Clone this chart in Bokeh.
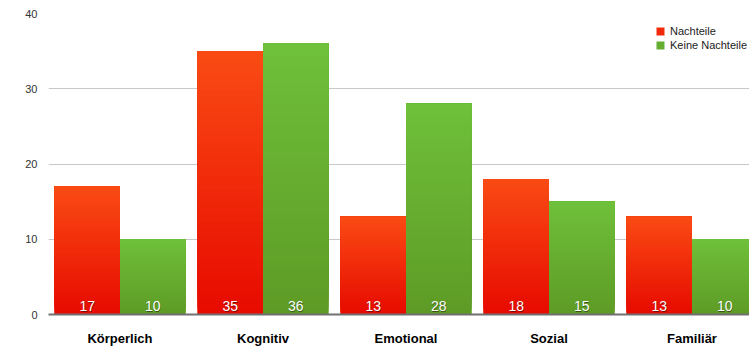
from bokeh.plotting import figure
from bokeh.models import Range1d, FixedTicker, Legend, LegendItem, ColumnDataSource
from bokeh.embed import file_html
from bokeh.resources import INLINE

# ---- data ----
categories = ["Körperlich", "Kognitiv", "Emotional", "Sozial", "Familiär"]
nachteile = [17, 35, 13, 18, 13]
keine_nachteile = [10, 36, 28, 15, 10]
series_names = ["Nachteile", "Keine Nachteile"]
y_ticks = [0, 10, 20, 30, 40]

FONT = "Liberation Sans"
RED_TOP, RED_BOT = (250, 75, 20), (231, 10, 0)
GRN_TOP, GRN_BOT = (111, 192, 58), (94, 155, 38)

centers = [i + 0.5 for i in range(len(categories))]
BW = 0.458
red_x = [c - BW / 2 for c in centers]
grn_x = [c + BW / 2 for c in centers]

p = figure(width=749, height=348, output_backend="svg", toolbar_location=None,
           x_range=Range1d(0, 701 / 143), y_range=Range1d(0, 40),
           min_border_left=48, min_border_right=0, min_border_top=13, min_border_bottom=34)
p.outline_line_color = None
p.background_fill_color = "white"
p.border_fill_color = "white"


def hexc(c):
    return "#%02x%02x%02x" % tuple(int(round(v)) for v in c)


def lerp(a, b, t):
    return tuple(a[k] + (b[k] - a[k]) * t for k in range(3))


def gradient_bars(xs, vals, top_c, bot_c, K=40):
    L, R, B, T, C = [], [], [], [], []
    for x, v in zip(xs, vals):
        for i in range(K):
            L.append(x - BW / 2)
            R.append(x + BW / 2)
            B.append(v * i / K)
            T.append(v)
            C.append(hexc(lerp(bot_c, top_c, (i + 0.5) / K)))
    src = ColumnDataSource(dict(left=L, right=R, bottom=B, top=T, color=C))
    p.quad(left="left", right="right", bottom="bottom", top="top", fill_color="color",
           line_color=None, source=src)


# base bars (used for legend)
r_red = p.vbar(x=red_x, top=nachteile, width=BW, fill_color=hexc(lerp(RED_BOT, RED_TOP, 0.5)), line_color=None)
r_grn = p.vbar(x=grn_x, top=keine_nachteile, width=BW, fill_color=hexc(lerp(GRN_BOT, GRN_TOP, 0.5)), line_color=None)
gradient_bars(red_x, nachteile, RED_TOP, RED_BOT)
gradient_bars(grn_x, keine_nachteile, GRN_TOP, GRN_BOT)

# value labels with shadow
all_x = red_x + grn_x
all_v = nachteile + keine_nachteile
lab = ColumnDataSource(dict(x=all_x, y=[0] * len(all_x), t=[str(v) for v in all_v]))
p.text(x="x", y="y", text="t", source=lab, text_align="center", text_baseline="alphabetic",
       y_offset=-8, x_offset=0.5, text_color="black", text_alpha=0.45, text_font_size="14px",
       text_font={"value": FONT})
p.text(x="x", y="y", text="t", source=lab, text_align="center", text_baseline="alphabetic",
       y_offset=-9, text_color="white", text_font_size="14px", text_font={"value": FONT})

# axes
p.xaxis.ticker = FixedTicker(ticks=centers)
p.xaxis.major_label_overrides = {c: n for c, n in zip(centers, categories)}
p.xaxis.major_tick_line_color = None
p.xaxis.major_tick_out = 0
p.xaxis.major_tick_in = 0
p.xaxis.minor_tick_line_color = None
p.xaxis.minor_tick_out = 0
p.xaxis.axis_line_color = "#707070"
p.xaxis.axis_line_width = 2
p.xaxis.major_label_standoff = 16
p.xaxis.major_label_text_font = FONT
p.xaxis.major_label_text_font_size = "13px"
p.xaxis.major_label_text_font_style = "bold"
p.xaxis.major_label_text_color = "black"

p.yaxis.ticker = FixedTicker(ticks=y_ticks)
p.yaxis.axis_line_color = None
p.yaxis.major_tick_line_color = None
p.yaxis.major_tick_out = 0
p.yaxis.major_tick_in = 0
p.yaxis.minor_tick_line_color = None
p.yaxis.minor_tick_out = 0
p.yaxis.major_label_standoff = 11
p.yaxis.major_label_text_font = FONT
p.yaxis.major_label_text_font_size = "11px"
p.yaxis.major_label_text_color = "#333333"

p.xgrid.grid_line_color = None
p.ygrid.grid_line_color = "#c8c8c8"
p.ygrid.grid_line_width = 1

legend = Legend(items=[LegendItem(label=series_names[0], renderers=[r_red]),
                       LegendItem(label=series_names[1], renderers=[r_grn])],
                location=(607, 263))
legend.border_line_color = None
legend.background_fill_alpha = 0
legend.padding = 0
legend.margin = 0
legend.spacing = 2
legend.glyph_width = 10
legend.glyph_height = 10
legend.label_height = 10
legend.label_standoff = 5
legend.label_text_font = FONT
legend.label_text_font_size = "11px"
legend.label_text_color = "#222222"
p.add_layout(legend)

open("out.html", "w").write(file_html(p, INLINE))
